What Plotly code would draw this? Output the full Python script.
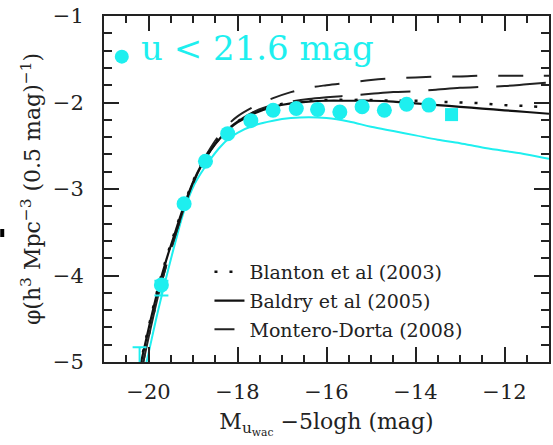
import plotly.graph_objects as go

# ---- data ----
pts_x = [-19.71, -19.2, -18.72, -18.22, -17.7, -17.2, -16.68, -16.2, -15.7, -15.2, -14.7, -14.2, -13.7]
pts_y = [-4.11, -3.17, -2.68, -2.36, -2.21, -2.09, -2.07, -2.08, -2.11, -2.05, -2.09, -2.02, -2.03]
pts_err_plus = [0.05, 0, 0, 0, 0, 0, 0, 0, 0, 0, 0, 0, 0]
pts_err_minus = [0.12, 0, 0, 0, 0, 0, 0, 0, 0, 0, 0, 0, 0]
last_x = [-13.19]
last_y = [-2.14]
faint_x = [-20.2]
faint_y = [-5.2]
faint_err = [0.37]
label_x = [-20.6]
label_y = [-1.47]

fit_x = [-20.2, -20.0, -19.8, -19.6, -19.4, -19.2, -19.0, -18.8, -18.6, -18.4, -18.2, -18.0,
         -17.6, -17.2, -16.8, -16.4, -16.0, -15.5, -15.0, -14.5, -14.0, -13.5, -13.0, -12.5,
         -12.0, -11.5, -11.0]
baldry_y = [-5.08, -4.62, -4.19, -3.82, -3.5, -3.19, -2.92, -2.71, -2.55, -2.42, -2.31, -2.23,
            -2.12, -2.05, -2.01, -1.99, -1.98, -1.98, -1.98, -1.99, -2.01, -2.03, -2.05, -2.07,
            -2.09, -2.11, -2.13]
blanton_y = [-5.06, -4.6, -4.17, -3.8, -3.48, -3.18, -2.91, -2.7, -2.54, -2.41, -2.3, -2.22,
             -2.11, -2.04, -2.0, -1.98, -1.97, -1.97, -1.97, -1.98, -1.98, -1.99, -2.0, -2.01,
             -2.03, -2.04, -2.06]
md1_y = [-5.2, -4.72, -4.27, -3.88, -3.54, -3.22, -2.93, -2.7, -2.52, -2.37, -2.25, -2.16,
         -2.04, -1.95, -1.88, -1.83, -1.8, -1.77, -1.74, -1.72, -1.71, -1.7, -1.7, -1.69,
         -1.69, -1.69, -1.69]
md2_y = [-5.2, -4.72, -4.27, -3.88, -3.54, -3.22, -2.94, -2.72, -2.55, -2.41, -2.3, -2.22,
         -2.1, -2.03, -1.99, -1.96, -1.94, -1.92, -1.9, -1.88, -1.87, -1.85, -1.83, -1.82,
         -1.81, -1.79, -1.77]
cyan_y = [-5.35, -4.9, -4.44, -4.02, -3.62, -3.25, -2.98, -2.8, -2.65, -2.52, -2.42, -2.35,
          -2.26, -2.21, -2.18, -2.17, -2.18, -2.22, -2.28, -2.33, -2.38, -2.43, -2.47, -2.52,
          -2.56, -2.6, -2.65]

legend_names = ["Blanton et al (2003)", "Baldry et al (2005)", "Montero-Dorta (2008)"]
label_text = "u < 21.6 mag"

CYAN = "#1EEFEF"
FONT = "DejaVu Serif"

fig = go.Figure()

fig.add_trace(go.Scatter(x=fit_x, y=cyan_y, mode="lines", line=dict(color=CYAN, width=2, shape="spline"),
                         showlegend=False))
fig.add_trace(go.Scatter(x=fit_x, y=md1_y, mode="lines",
                         line=dict(color="#222", width=2, dash="25px,21px", shape="spline"),
                         showlegend=False))
fig.add_trace(go.Scatter(x=fit_x, y=md2_y, mode="lines",
                         line=dict(color="#222", width=2, dash="50px,18px", shape="spline"),
                         showlegend=False))
fig.add_trace(go.Scatter(x=fit_x, y=blanton_y, mode="lines", name=legend_names[0], legendgroup="a",
                         line=dict(color="#111", width=2.5, dash="3px,12px", shape="spline")))
fig.add_trace(go.Scatter(x=fit_x, y=baldry_y, mode="lines", name=legend_names[1], legendgroup="b",
                         line=dict(color="#111", width=2.2, shape="spline")))
fig.add_trace(go.Scatter(x=[None], y=[None], mode="lines", name=legend_names[2], legendgroup="c",
                         line=dict(color="#222", width=2, dash="20px,20px")))

fig.add_trace(go.Scatter(x=pts_x, y=pts_y, mode="markers",
                         marker=dict(color=CYAN, size=15, line=dict(width=0)),
                         error_y=dict(type="data", array=pts_err_plus, arrayminus=pts_err_minus,
                                      color=CYAN, thickness=2, width=7),
                         showlegend=False))
fig.add_trace(go.Scatter(x=last_x, y=last_y, mode="markers",
                         marker=dict(color=CYAN, size=13, symbol="square", line=dict(width=0)),
                         showlegend=False))
fig.add_trace(go.Scatter(x=faint_x, y=faint_y, mode="markers",
                         marker=dict(color=CYAN, size=12),
                         error_y=dict(type="data", array=faint_err, arrayminus=[0], color=CYAN,
                                      thickness=2, width=7),
                         showlegend=False))
fig.add_trace(go.Scatter(x=label_x, y=label_y, mode="markers",
                         marker=dict(color=CYAN, size=14), showlegend=False))

fig.add_annotation(x=label_x[0], y=label_y[0], xref="x", yref="y", text=label_text,
                   showarrow=False, xanchor="left", xshift=17, yshift=9,
                   font=dict(family=FONT, size=34, color=CYAN))

axis_common = dict(showline=True, linecolor="#222", linewidth=2, mirror="allticks",
                   ticks="inside", ticklen=15, tickwidth=1.5, tickcolor="#222",
                   showgrid=False, zeroline=False,
                   tickfont=dict(family=FONT, size=21, color="#222"))

fig.update_xaxes(range=[-21, -11], dtick=2, tick0=-20,
                 minor=dict(dtick=0.5, ticklen=7, ticks="inside", tickcolor="#222", tickwidth=1.5),
                 title=dict(text="M<sub>u<sub>wac</sub></sub> −5logh (mag)",
                            font=dict(family=FONT, size=22, color="#222"), standoff=10),
                 ticklabelstandoff=10, **axis_common)
fig.update_yaxes(range=[-5, -1], dtick=1, tick0=-5,
                 minor=dict(dtick=0.2, ticklen=8, ticks="inside", tickcolor="#222", tickwidth=1.5),
                 title=dict(text="φ(h<sup>3</sup> Mpc<sup>−3</sup> (0.5 mag)<sup>−1</sup>)",
                            font=dict(family=FONT, size=22, color="#222"), standoff=6),
                 ticklabelstandoff=14, **axis_common)

fig.add_shape(type="rect", xref="paper", yref="paper",
              x0=-104/446, x1=-100/446, y0=1-(237-16)/346, y1=1-(229-16)/346,
              fillcolor="#000", line=dict(width=0))

fig.update_layout(
    width=553, height=445,
    margin=dict(l=104, r=2, t=16, b=83),
    paper_bgcolor="white", plot_bgcolor="white",
    showlegend=True,
    legend=dict(x=0.237, y=0.315, xanchor="left", yanchor="top", bgcolor="rgba(0,0,0,0)",
                font=dict(family=FONT, size=19, color="#222"), tracegroupgap=1,
                itemwidth=30),
)

fig.write_html("out.html")
